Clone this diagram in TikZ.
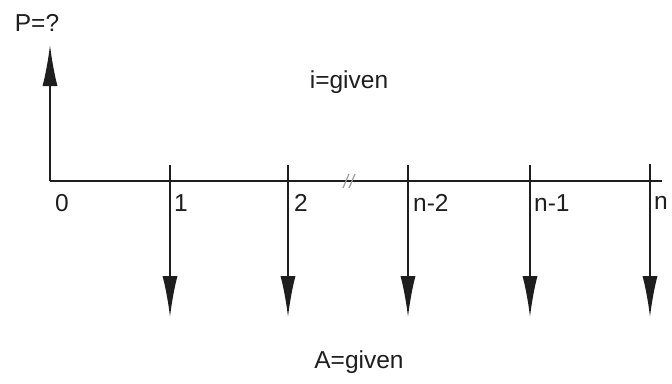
\documentclass[tikz,border=0pt]{standalone}
\usepackage{fontspec}
\setmainfont{Liberation Sans}
\usetikzlibrary{arrows.meta}
\definecolor{axisgray}{HTML}{1E1E1E}
\definecolor{breakgray}{HTML}{9A9A9A}

\begin{document}
\begin{tikzpicture}[x=1pt, y=-1pt, every node/.style={font=\fontsize{24.5}{26}\selectfont, text=axisgray, inner sep=0pt},
  flow/.style={draw=axisgray, line width=1.6pt, -{Latex[length=41pt, width=15pt]}},
  tick label/.style={anchor=west}]
  \useasboundingbox (0,0) rectangle (672,383);
  % time line
  \coordinate (t0) at (50,181);
  \coordinate (tend) at (662,181);
  \draw[axisgray, line width=1.6pt] (t0) -- (tend);
  % break mark
  \coordinate (brk) at (349,181);
  \draw[breakgray, line width=1.2pt] ([shift={(-6,7)}]brk) -- ([shift={(0,-7)}]brk);
  \draw[breakgray, line width=1.2pt] ([shift={(0,7)}]brk) -- ([shift={(6,-7)}]brk);
  % present value
  \coordinate (ptip) at (50,45);
  \draw[flow] (t0) -- (ptip);
  \node (pval) at (37,23) {P=?};
  \node (rate) at (349,82) {i=given};
  % annuity payments
  \coordinate (a1) at (170,165);  \coordinate (b1) at (170,317);
  \coordinate (a2) at (288,165);  \coordinate (b2) at (288,317);
  \coordinate (a3) at (408,165);  \coordinate (b3) at (408,317);
  \coordinate (a4) at (530,165);  \coordinate (b4) at (530,317);
  \coordinate (a5) at (650,164);  \coordinate (b5) at (650,317);
  \draw[flow] (a1) -- (b1);
  \draw[flow] (a2) -- (b2);
  \draw[flow] (a3) -- (b3);
  \draw[flow] (a4) -- (b4);
  \draw[flow] (a5) -- (b5);
  \node (amt) at (359,362) {A=given};
  % period labels
  \node[tick label] (l0) at (55,203) {0};
  \node[tick label] (l1) at (174,203) {1};
  \node[tick label] (l2) at (294,203) {2};
  \node[tick label] (l3) at (413,203) {n-2};
  \node[tick label] (l4) at (534,203) {n-1};
  \node[tick label] (l5) at (654,203) {n};
\end{tikzpicture}
\end{document}
